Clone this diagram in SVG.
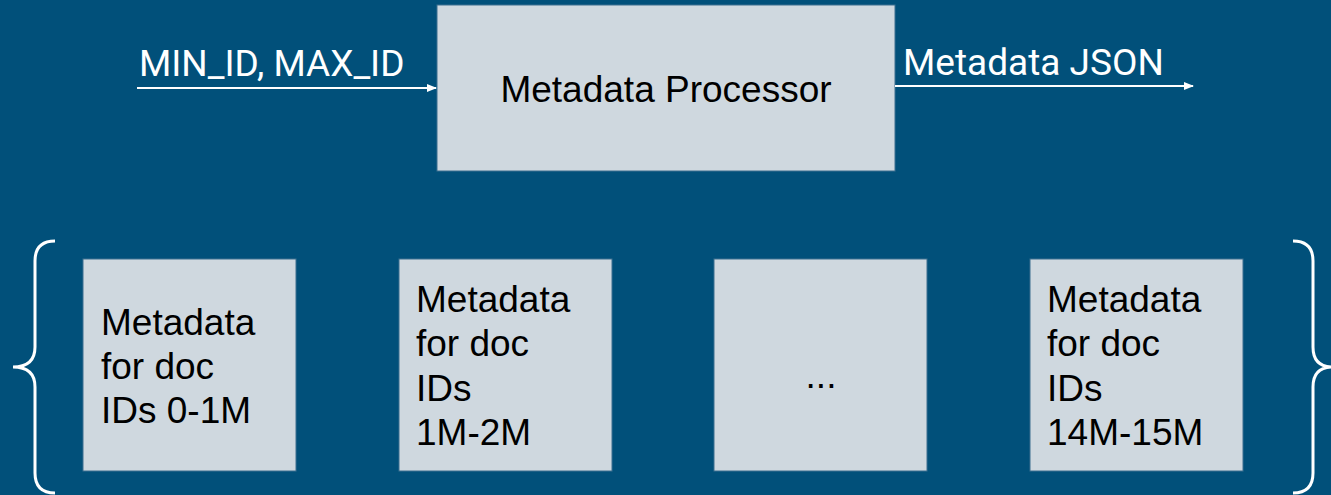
<svg xmlns="http://www.w3.org/2000/svg" width="1331" height="495" viewBox="0 0 1331 495">
<style>
.box{fill:#cfd8df;stroke:#3d6f8f;stroke-width:1}
.bt{font-family:"Liberation Sans",Arial,sans-serif;font-size:37px;fill:#000}
.lbl{font-family:Roboto,"Liberation Sans",sans-serif;font-size:37px;fill:#fff}
.ln{stroke:#fff;stroke-width:2;fill:none}
.br{stroke:#fff;stroke-width:3;fill:none}
</style>
<defs>
<marker id="ah" markerWidth="10" markerHeight="8" refX="9" refY="4" orient="auto" markerUnits="userSpaceOnUse">
<path d="M0,0 L10,4 L0,8 Z" fill="#fff"/>
</marker>
</defs>
<rect width="1331" height="495" fill="#01507a"/>
<g id="processor">
<rect class="box" x="437" y="5" width="458" height="166"/>
<text class="bt" x="666" y="102" text-anchor="middle">Metadata Processor</text>
</g>
<g id="shard1">
<rect class="box" x="83" y="259" width="213" height="212"/>
<text class="bt" x="101" y="335">Metadata</text>
<text class="bt" x="101" y="379">for doc</text>
<text class="bt" x="101" y="423">IDs 0-1M</text>
</g>
<g id="shard2">
<rect class="box" x="399" y="259" width="213" height="212"/>
<text class="bt" x="416" y="312">Metadata</text>
<text class="bt" x="416" y="356">for doc</text>
<text class="bt" x="416" y="401">IDs</text>
<text class="bt" x="416" y="445">1M-2M</text>
</g>
<g id="shard3">
<rect class="box" x="714" y="259" width="213" height="212"/>
<text class="bt" x="821" y="388" text-anchor="middle">...</text>
</g>
<g id="shard4">
<rect class="box" x="1030" y="259" width="213" height="212"/>
<text class="bt" x="1047" y="312">Metadata</text>
<text class="bt" x="1047" y="356">for doc</text>
<text class="bt" x="1047" y="401">IDs</text>
<text class="bt" x="1047" y="445">14M-15M</text>
</g>
<g id="connectors">
<line class="ln" x1="137" y1="88" x2="436" y2="88" marker-end="url(#ah)"/>
<text class="lbl" x="139" y="76">MIN_ID, MAX_ID</text>
<line class="ln" x1="895" y1="86" x2="1193" y2="86" marker-end="url(#ah)"/>
<text class="lbl" x="903" y="75">Metadata JSON</text>
</g>
<g id="braces">
<path class="br" d="M55,241 Q35,241 35,261 L35,347 Q35,367 13,367 Q35,367 35,387 L35,473 Q35,493 55,493"/>
<path class="br" d="M1293,241 Q1313,241 1313,261 L1313,347 Q1313,367 1333,367 Q1313,367 1313,387 L1313,473 Q1313,493 1293,493"/>
</g>
</svg>
